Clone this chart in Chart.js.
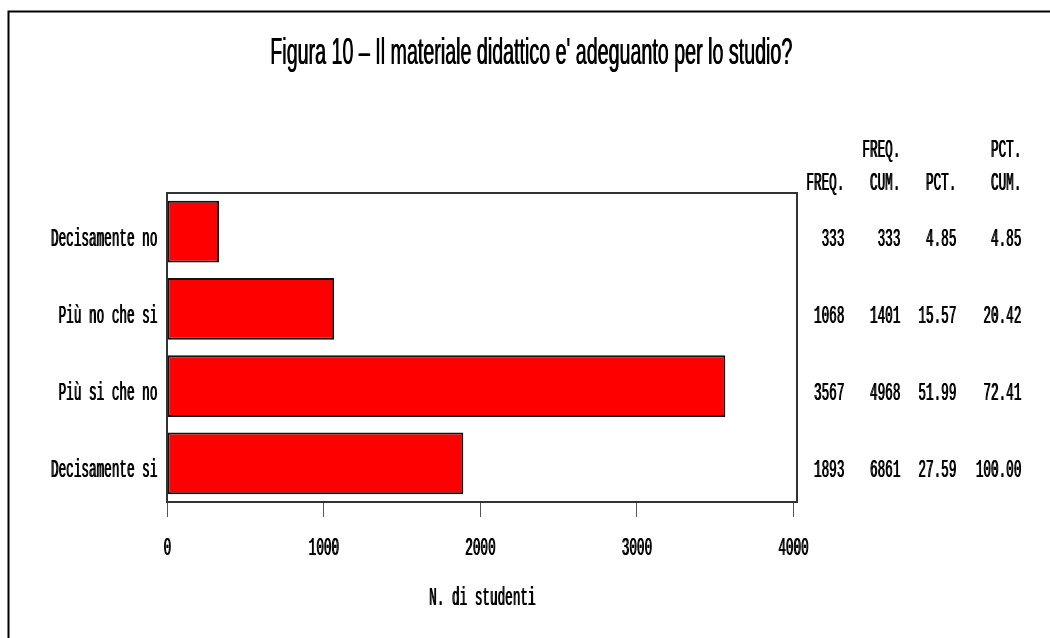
<!DOCTYPE html>
<html>
<head>
<meta charset="utf-8">
<script src="https://cdn.jsdelivr.net/npm/chart.js@4.4.1/dist/chart.umd.min.js"></script>
<style>
  html, body { margin: 0; padding: 0; background: #fff; }
  canvas { display: block; }
</style>
</head>
<body>
<canvas id="myChart" width="1050" height="638"></canvas>
<script>
const categories = ["Decisamente no", "Più no che si", "Più si che no", "Decisamente si"];
const freq = [333, 1068, 3567, 1893];
const freqCum = [333, 1401, 4968, 6861];
const pct = ["4.85", "15.57", "51.99", "27.59"];
const pctCum = ["4.85", "20.42", "72.41", "100.00"];
const xTicks = [0, 1000, 2000, 3000, 4000];
const tableHead1 = ["", "FREQ.", "", "PCT."];
const tableHead2 = ["FREQ.", "CUM.", "PCT.", "CUM."];
const titleText = "Figura 10 \u2013 Il materiale didattico e' adeguanto per lo studio?";
const axisTitle = "N. di studenti";

const monoFont = "26px 'Liberation Mono', 'DejaVu Sans Mono', monospace";
const pitch = 7.6;

// condensed monospace text, like the SAS bitmap font (drawn twice for weight)
function drawMono(ctx, s, x, y, align) {
  ctx.save();
  ctx.font = monoFont;
  const w0 = ctx.measureText("0").width;
  const sx = pitch / w0;
  ctx.fillStyle = "#000";
  ctx.textAlign = align;
  ctx.textBaseline = "alphabetic";
  for (const dx of [0, 0.8]) {
    ctx.save();
    ctx.translate(x + dx, y);
    ctx.scale(sx, 1);
    ctx.fillText(s, 0, 0);
    ctx.restore();
  }
  ctx.restore();
}

const framePlugin = {
  id: "frame",
  beforeDraw(chart) {
    const ctx = chart.ctx;
    ctx.save();
    ctx.fillStyle = "#fff";
    ctx.fillRect(0, 0, chart.width, chart.height);
    ctx.strokeStyle = "#000";
    ctx.lineWidth = 2;
    ctx.strokeRect(8.5, 11.5, 1100, 700);
    ctx.restore();
  },
  afterDraw(chart) {
    const ctx = chart.ctx;
    const a = chart.chartArea;
    const xs = chart.scales.x;
    const ys = chart.scales.y;

    // plot frame
    ctx.save();
    ctx.strokeStyle = "#333";
    ctx.lineWidth = 2;
    ctx.strokeRect(a.left, a.top, a.right - a.left, a.bottom - a.top);
    ctx.restore();

    // title, squeezed to the narrow face of the original
    ctx.save();
    ctx.font = "36px 'Liberation Sans', Arial, sans-serif";
    const tw = ctx.measureText(titleText).width;
    ctx.fillStyle = "#000";
    ctx.textAlign = "left";
    ctx.textBaseline = "alphabetic";
    for (const dx of [0, 0.6]) {
      ctx.save();
      ctx.translate(270 + dx, 64);
      ctx.scale(522 / tw, 1);
      ctx.fillText(titleText, 0, 0);
      ctx.restore();
    }
    ctx.restore();

    // category labels and table rows
    const colRight = [844, 900, 956, 1021];
    categories.forEach((c, i) => {
      const y = ys.getPixelForValue(i) + 14;
      drawMono(ctx, c, a.left - 10, y, "right");
      drawMono(ctx, String(freq[i]), colRight[0], y, "right");
      drawMono(ctx, String(freqCum[i]), colRight[1], y, "right");
      drawMono(ctx, pct[i], colRight[2], y, "right");
      drawMono(ctx, pctCum[i], colRight[3], y, "right");
    });
    tableHead1.forEach((h, j) => { if (h) drawMono(ctx, h, colRight[j], 157, "right"); });
    tableHead2.forEach((h, j) => drawMono(ctx, h, colRight[j], 190, "right"));

    // x tick labels and axis title
    xs.ticks.forEach(t => {
      drawMono(ctx, String(t.value), xs.getPixelForValue(t.value), 555, "center");
    });
    drawMono(ctx, axisTitle, (a.left + a.right) / 2, 605, "center");
  }
};

new Chart(document.getElementById("myChart"), {
  type: "bar",
  data: {
    labels: categories,
    datasets: [{
      data: freq,
      backgroundColor: "#ff0000",
      borderColor: "#111",
      borderWidth: 2,
      borderSkipped: false,
      barPercentage: 0.8,
      categoryPercentage: 1.0,
    }],
  },
  options: {
    indexAxis: "y",
    responsive: false,
    animation: false,
    devicePixelRatio: 1,
    layout: { padding: { top: 193, right: 253, bottom: 0, left: 0 } },
    plugins: { legend: { display: false }, tooltip: { enabled: false }, title: { display: false } },
    scales: {
      x: {
        min: 0,
        max: 4025,
        grid: { drawOnChartArea: false, drawTicks: true, tickLength: 15, color: "#555", lineWidth: 1 },
        border: { display: false },
        ticks: { display: false },
        afterBuildTicks(scale) { scale.ticks = xTicks.map(v => ({ value: v })); },
        afterFit(scale) { scale.height = 136; },
      },
      y: {
        grid: { display: false },
        border: { display: false },
        ticks: { display: false },
        afterFit(scale) { scale.width = 167; },
      },
    },
  },
  plugins: [framePlugin],
});
</script>
</body>
</html>
